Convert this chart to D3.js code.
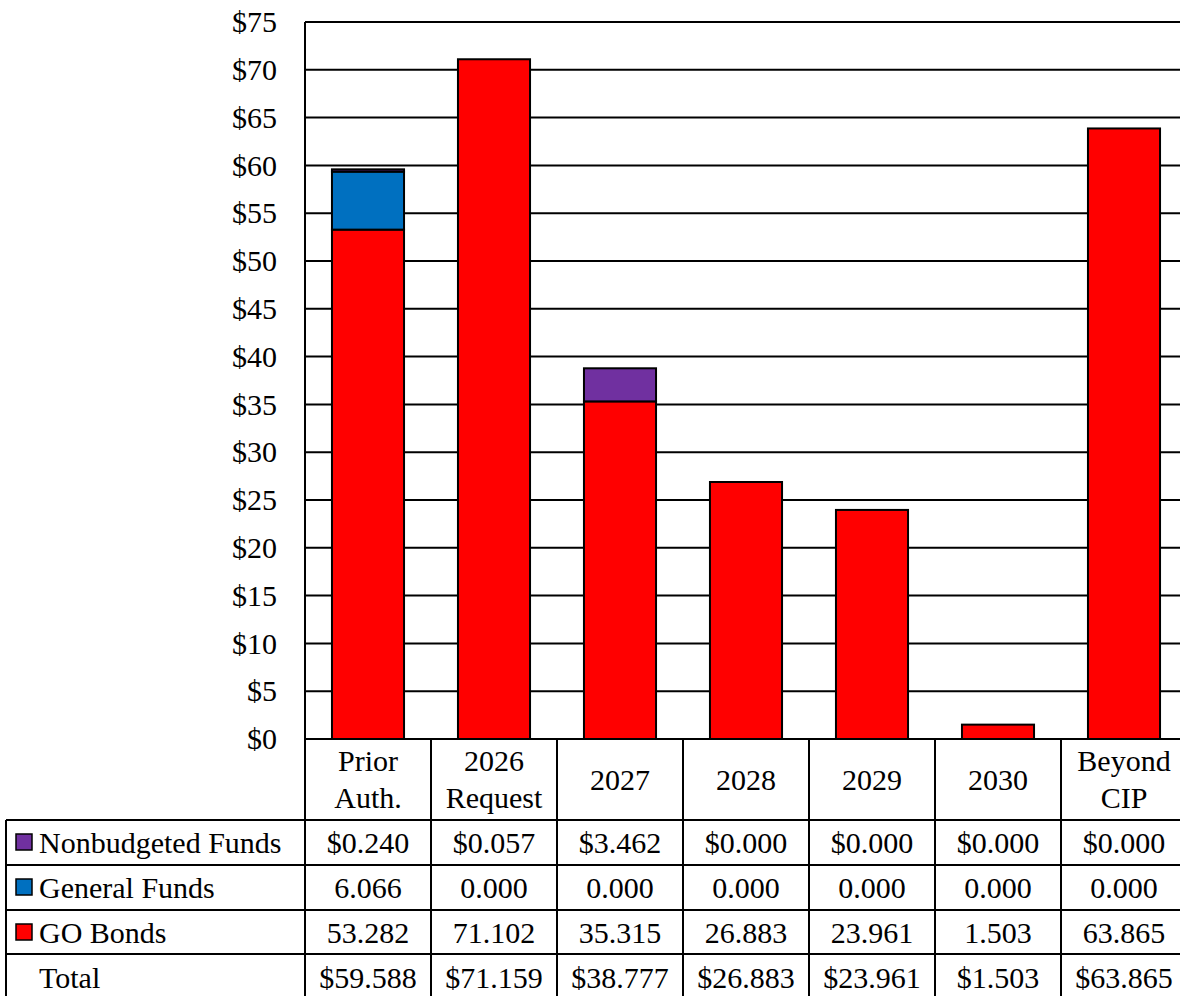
<!DOCTYPE html>
<html><head><meta charset="utf-8">
<script src="https://cdn.jsdelivr.net/npm/d3@7"></script>
<style>body{margin:0;background:#fff;}svg{display:block;}svg text{font-family:"Liberation Serif","Tinos","Times New Roman","DejaVu Serif",serif !important;}</style>
</head><body>
<svg id="c" width="1180" height="996"></svg>
<script>
const categories = [["Prior","Auth."],["2026","Request"],["2027"],["2028"],["2029"],["2030"],["Beyond","CIP"]];
const seriesNames = ["GO Bonds","General Funds","Nonbudgeted Funds"];
const goBonds = [53.282,71.102,35.315,26.883,23.961,1.503,63.865];
const generalFunds = [6.066,0,0,0,0,0,0];
const nonbudgeted = [0.240,0.057,3.462,0,0,0,0];
const totals = [59.588,71.159,38.777,26.883,23.961,1.503,63.865];
const yTicks = [0,5,10,15,20,25,30,35,40,45,50,55,60,65,70,75];
const colors = {"GO Bonds":"#FF0000","General Funds":"#0070C0","Nonbudgeted Funds":"#7030A0"};

(function(){
const svg = d3.select("#c");
const pL = 305, pR = 1187, pT = 22, pB = 739;
const FS = 30;
const keys = categories.map(c=>c.join(" "));
const x = d3.scaleBand().domain(keys).range([pL,pR]).padding(0);
const y = d3.scaleLinear().domain([0,75]).range([pB,pT]);
const bw = x.bandwidth()*0.572;

svg.append("g").selectAll("line").data(yTicks.filter(t=>t>0)).join("line")
  .attr("x1",pL).attr("x2",1180).attr("y1",d=>y(d)).attr("y2",d=>y(d))
  .attr("stroke","#000").attr("stroke-width",2);

const yAxis = d3.axisLeft(y).tickValues(yTicks).tickSize(0).tickPadding(28).tickFormat(d=>"$"+d);
const ga = svg.append("g").attr("transform",`translate(${pL},0)`).call(yAxis);
ga.select(".domain").remove();
ga.attr("font-family",null);
ga.selectAll("text").attr("font-size",FS).attr("fill","#000");

const rows = keys.map((k,i)=>({key:k,"GO Bonds":goBonds[i],"General Funds":generalFunds[i],"Nonbudgeted Funds":nonbudgeted[i]}));
const stack = d3.stack().keys(seriesNames)(rows);
svg.append("g").selectAll("g").data(stack).join("g").attr("fill",d=>colors[d.key])
  .selectAll("rect").data(d=>d.filter(s=>s[1]-s[0]>0.1)).join("rect")
  .attr("x",d=>x(d.data.key)+(x.bandwidth()-bw)/2).attr("width",bw)
  .attr("y",d=>y(d[1])).attr("height",d=>y(d[0])-y(d[1]))
  .attr("stroke","#000").attr("stroke-width",2);

svg.append("line").attr("x1",pL).attr("x2",1180).attr("y1",pT).attr("y2",pT).attr("stroke","#000").attr("stroke-width",2);
svg.append("line").attr("x1",pL).attr("x2",pL).attr("y1",pT).attr("y2",pB).attr("stroke","#000").attr("stroke-width",2);

const tLeft = 6, headBottom = 820, rowH = 45;
const tableRows = [
  {label:"Nonbudgeted Funds", vals:nonbudgeted, fmt:d=>"$"+d.toFixed(3), color:colors["Nonbudgeted Funds"]},
  {label:"General Funds", vals:generalFunds, fmt:d=>d.toFixed(3), color:colors["General Funds"]},
  {label:"GO Bonds", vals:goBonds, fmt:d=>d.toFixed(3), color:colors["GO Bonds"]},
  {label:"Total", vals:totals, fmt:d=>"$"+d.toFixed(3), color:null}
];
const tb = svg.append("g");
const line=(x1,y1,x2,y2)=>tb.append("line").attr("x1",x1).attr("y1",y1).attr("x2",x2).attr("y2",y2).attr("stroke","#000").attr("stroke-width",2);
line(pL,pB,1180,pB);
[...keys.map(k=>x(k)), pR].forEach(v=>line(v,pB,v,1000));
line(tLeft,headBottom,tLeft,1000);
for(let r=0;r<tableRows.length;r++){ const yy=headBottom+r*rowH-(r===3?1:0); line(tLeft,yy,1180,yy); }

categories.forEach((c,i)=>{
  const cx = x(keys[i])+x.bandwidth()/2;
  const t = tb.append("text").attr("text-anchor","middle").attr("font-size",FS).attr("fill","#000");
  if(c.length===1){ t.append("tspan").attr("x",cx).attr("y",790).text(c[0]); }
  else { t.append("tspan").attr("x",cx).attr("y",771).text(c[0]); t.append("tspan").attr("x",cx).attr("y",808).text(c[1]); }
});
tableRows.forEach((r,ri)=>{
  const yb = headBottom+ri*rowH+33;
  if(r.color){
    tb.append("rect").attr("x",16).attr("y",headBottom+ri*rowH+14).attr("width",16).attr("height",16)
      .attr("fill",r.color).attr("stroke","#000").attr("stroke-width",1.5);
  }
  tb.append("text").attr("x",39).attr("y",yb).attr("font-size",FS).attr("fill","#000").text(r.label);
  r.vals.forEach((v,i)=>{
    tb.append("text").attr("x",x(keys[i])+x.bandwidth()/2).attr("y",yb).attr("text-anchor","middle")
      .attr("font-size",FS).attr("fill","#000").text(r.fmt(v));
  });
});
})();
</script>
</body></html>
